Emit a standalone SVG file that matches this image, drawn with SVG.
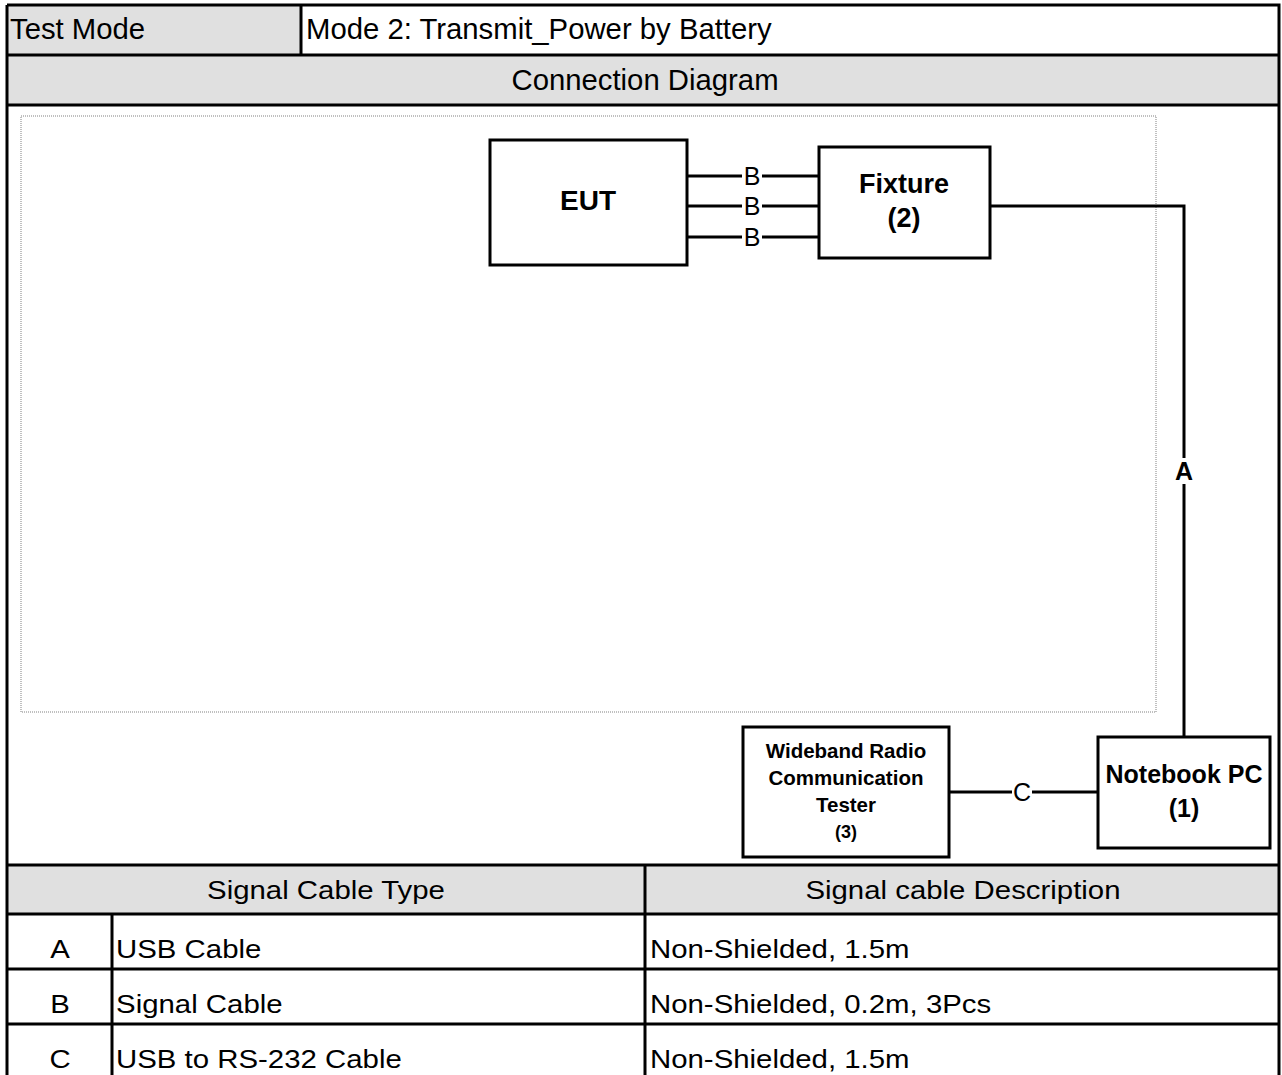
<svg xmlns="http://www.w3.org/2000/svg" width="1282" height="1075" viewBox="0 0 1282 1075">
<style>
.t{font-family:"Liberation Sans",Arial,sans-serif;fill:#000}
.tt{font-size:29.3px}
.tb{font-size:26px}
.nb{font-family:"Liberation Sans",Arial,sans-serif;font-weight:bold;fill:#000;text-anchor:middle}
.lb{font-family:"Liberation Sans",Arial,sans-serif;font-size:25px;fill:#000;text-anchor:middle}
.grid{stroke:#000;stroke-width:3;fill:none}
.box{stroke:#000;stroke-width:3;fill:#fff}
.wire{stroke:#000;stroke-width:3;fill:none}
</style>
<rect x="0" y="0" width="1282" height="1075" fill="#fff"/>
<g id="table">
<rect x="7" y="5" width="294" height="50" fill="#e0e0e0"/>
<rect x="7" y="55" width="1272" height="50" fill="#e0e0e0"/>
<rect x="7" y="865" width="1272" height="49" fill="#e0e0e0"/>
<path class="grid" d="M7,5 H1279 V1075 M7,5 V1075 M7,55 H1279 M301,5 V55 M7,105 H1279 M7,865 H1279 M7,914 H1279 M7,969 H1279 M7,1024 H1279 M645,865 V1075 M112,914 V1075"/>
<text class="t tt" x="10" y="39">Test Mode</text>
<text class="t tt" x="306" y="39">Mode 2: Transmit_Power by Battery</text>
<text class="t tt" x="645" y="90" text-anchor="middle">Connection Diagram</text>
<g transform="scale(1.13 1)">
<text class="t tb" x="288.5" y="899" text-anchor="middle">Signal Cable Type</text>
<text class="t tb" x="852.2" y="899" text-anchor="middle">Signal cable Description</text>
<text class="t tb" x="53.1" y="958" text-anchor="middle">A</text>
<text class="t tb" x="102.7" y="958">USB Cable</text>
<text class="t tb" x="575.2" y="958">Non-Shielded, 1.5m</text>
<text class="t tb" x="53.1" y="1013" text-anchor="middle">B</text>
<text class="t tb" x="102.7" y="1013">Signal Cable</text>
<text class="t tb" x="575.2" y="1013">Non-Shielded, 0.2m, 3Pcs</text>
<text class="t tb" x="53.1" y="1068" text-anchor="middle">C</text>
<text class="t tb" x="102.7" y="1068">USB to RS-232 Cable</text>
<text class="t tb" x="575.2" y="1068">Non-Shielded, 1.5m</text>
</g>
</g>
<rect x="21" y="116" width="1135" height="596" fill="none" stroke="#c0c0c0" stroke-width="2" stroke-dasharray="1 1"/>
<g id="connectors">
<path class="wire" d="M687,176 H742 M762,176 H819"/>
<path class="wire" d="M687,206 H742 M762,206 H819"/>
<path class="wire" d="M687,237 H742 M762,237 H819"/>
<text class="lb" x="752" y="185">B</text>
<text class="lb" x="752" y="215">B</text>
<text class="lb" x="752" y="246">B</text>
<path class="wire" d="M990,206 H1184 V458 M1184,484 V737"/>
<text class="lb" x="1184" y="480" font-weight="bold">A</text>
<path class="wire" d="M950,792 H1012 M1032,792 H1098"/>
<text class="lb" x="1022" y="801">C</text>
</g>
<g id="eut">
<rect class="box" x="490" y="140" width="197" height="125"/>
<text class="nb" x="588" y="210" font-size="28">EUT</text>
</g>
<g id="fixture">
<rect class="box" x="819" y="147" width="171" height="111"/>
<text class="nb" x="904" y="193" font-size="27">Fixture</text>
<text class="nb" x="904" y="227" font-size="27">(2)</text>
</g>
<g id="notebook">
<rect class="box" x="1098" y="737" width="172" height="111"/>
<text class="nb" x="1184" y="783" font-size="25">Notebook PC</text>
<text class="nb" x="1184" y="817" font-size="25">(1)</text>
</g>
<g id="tester">
<rect class="box" x="743" y="727" width="206" height="130"/>
<text class="nb" x="846" y="758" font-size="20.5">Wideband Radio</text>
<text class="nb" x="846" y="785" font-size="20.5">Communication</text>
<text class="nb" x="846" y="812" font-size="20.5">Tester</text>
<text class="nb" x="846" y="838" font-size="18" font-weight="normal">(3)</text>
</g>
</svg>
